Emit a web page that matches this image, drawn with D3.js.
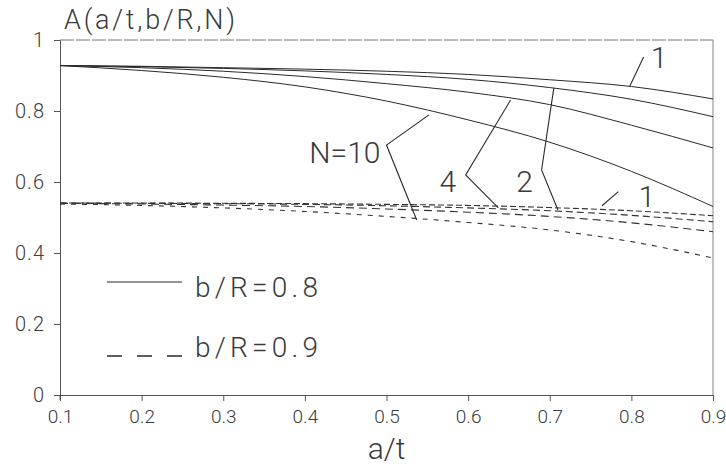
<!DOCTYPE html>
<html><head><meta charset="utf-8">
<script src="https://cdn.jsdelivr.net/npm/d3@7"></script>
<style>
body{margin:0;background:#fff;}
text{font-family:Roboto,"Liberation Sans",Arial,sans-serif;font-weight:300;fill:#3a3a3a;}
</style></head>
<body><svg id="c" width="726" height="469"></svg>
<script>
// ---- data ----
const aT = [0.1,0.2,0.3,0.4,0.5,0.6,0.7,0.8,0.9];
const solidN1  = [0.928,0.926,0.922,0.918,0.912,0.903,0.888,0.869,0.834];
const solidN2  = [0.928,0.925,0.920,0.913,0.903,0.889,0.866,0.833,0.784];
const solidN4  = [0.928,0.922,0.912,0.897,0.877,0.853,0.818,0.760,0.696];
const solidN10 = [0.928,0.914,0.895,0.868,0.828,0.775,0.712,0.630,0.531];
const dashN1  = [0.541,0.541,0.540,0.539,0.537,0.534,0.528,0.519,0.505];
const dashN2  = [0.541,0.540,0.539,0.537,0.533,0.527,0.519,0.506,0.488];
const dashN4  = [0.540,0.538,0.535,0.531,0.524,0.515,0.503,0.485,0.460];
const dashN10 = [0.538,0.534,0.527,0.517,0.503,0.486,0.465,0.432,0.386];
const xTicks = [0.1,0.2,0.3,0.4,0.5,0.6,0.7,0.8,0.9];
const yTicks = [0,0.2,0.4,0.6,0.8,1];
const yTickLabels = ["0","0.2","0.4","0.6","0.8","1"];
const xTickLabels = ["0.1","0.2","0.3","0.4","0.5","0.6","0.7","0.8","0.9"];
const curveLabels = ["1","2","4","N=10","1"];
// leader lines in data units
const leaders = [
  [[0.798,0.870],[0.815,0.952]],
  [[0.705,0.865],[0.690,0.634],[0.710,0.521]],
  [[0.652,0.831],[0.597,0.620],[0.637,0.527]],
  [[0.552,0.789],[0.500,0.704],[0.537,0.493]],
  [[0.764,0.533],[0.784,0.573]]
];
const labelPos = [[0.834,0.921],[0.669,0.572],[0.575,0.572],[0.449,0.654],[0.819,0.530]];

// ---- layout ----
const svg = d3.select("#c");
const x = d3.scaleLinear().domain([0.1,0.9]).range([60,713]);
const y = d3.scaleLinear().domain([0,1]).range([395,40]);
const ink = "#2a2a2a";

// frame top / right (light)
svg.append("line").attr("x1",x(0.1)).attr("x2",x(0.9)).attr("y1",y(1)).attr("y2",y(1))
  .attr("stroke","#777").attr("stroke-width",1).attr("stroke-dasharray","14,2");
svg.append("line").attr("x1",x(0.9)).attr("x2",x(0.9)).attr("y1",y(1)).attr("y2",y(0))
  .attr("stroke","#999").attr("stroke-width",1.2);

// axes
const xAxis = d3.axisBottom(x).tickValues(xTicks).tickFormat((d,i)=>xTickLabels[i]).tickSizeOuter(0).tickSize(6).tickPadding(9);
const gx = svg.append("g").attr("transform",`translate(0,${y(0)})`).call(xAxis);
gx.attr("font-size",null).attr("font-family",null);
gx.select(".domain").attr("stroke","#555");
gx.selectAll(".tick line").attr("stroke","#555");
gx.selectAll(".tick text").style("font-size","19px").attr("fill","#444").style("font-weight",300);

const yAxis = d3.axisLeft(y).tickValues(yTicks).tickFormat((d,i)=>yTickLabels[i]).tickSizeOuter(0).tickSize(6).tickPadding(9);
const gy = svg.append("g").attr("transform",`translate(${x(0.1)},0)`).call(yAxis);
gy.attr("font-size",null).attr("font-family",null);
gy.select(".domain").attr("stroke","#555");
gy.selectAll(".tick line").attr("stroke","#555");
gy.selectAll(".tick text").style("font-size","20px").attr("letter-spacing",1).attr("fill","#444").style("font-weight",300);
svg.append("line").attr("x1",x(0.1)).attr("x2",x(0.1)).attr("y1",y(0)).attr("y2",y(0)+5).attr("stroke","#555");

// curves
const line = d3.line().x((d,i)=>x(aT[i])).y(d=>y(d)).curve(d3.curveMonotoneX);
[solidN1,solidN2,solidN4,solidN10].forEach(s=>{
  svg.append("path").attr("d",line(s)).attr("fill","none").attr("stroke",ink).attr("stroke-width",1);
});
const dashes = ["6,3","7,4","8,5","5,6"];
[dashN1,dashN2,dashN4,dashN10].forEach((s,k)=>{
  svg.append("path").attr("d",line(s)).attr("fill","none").attr("stroke","#333").attr("stroke-width",1.1).attr("stroke-dasharray",dashes[k]);
});

// leaders
const lp = d3.line().x(d=>x(d[0])).y(d=>y(d[1]));
leaders.forEach(l=>svg.append("path").attr("d",lp(l)).attr("fill","none").attr("stroke",ink).attr("stroke-width",1.1));
curveLabels.forEach((t,i)=>{
  svg.append("text").attr("x",x(labelPos[i][0])).attr("y",y(labelPos[i][1]))
    .attr("text-anchor","middle").attr("font-size",30).text(t);
});

// legend
svg.append("line").attr("x1",107).attr("x2",182).attr("y1",282).attr("y2",282).attr("stroke",ink).attr("stroke-width",1.2);
svg.append("line").attr("x1",107).attr("x2",182).attr("y1",356).attr("y2",356).attr("stroke",ink).attr("stroke-width",1.4).attr("stroke-dasharray","15,15");
svg.append("text").attr("x",195).attr("y",297).attr("font-size",28).attr("textLength",123).attr("lengthAdjust","spacing").text("b/R=0.8");
svg.append("text").attr("x",195).attr("y",357).attr("font-size",28).attr("textLength",123).attr("lengthAdjust","spacing").text("b/R=0.9");

// titles
svg.append("text").attr("x",64).attr("y",29).attr("font-size",27).attr("textLength",171).attr("lengthAdjust","spacing").text("A(a/t,b/R,N)");
svg.append("text").attr("x",x(0.5)).attr("y",459).attr("text-anchor","middle").attr("font-size",30).text("a/t");
</script></body></html>
